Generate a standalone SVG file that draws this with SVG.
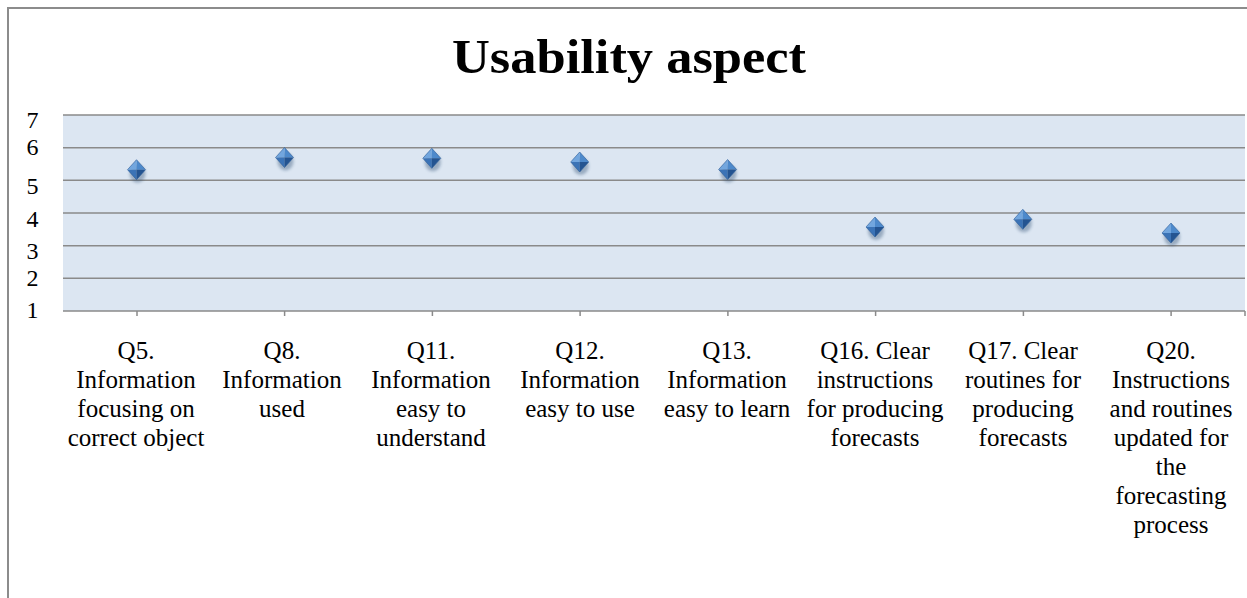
<svg xmlns="http://www.w3.org/2000/svg" width="1247" height="598" viewBox="0 0 1247 598">
<style>
.frame{fill:none;stroke:#8c8c8c;stroke-width:2}
.grid{stroke:#8a8a8a;stroke-width:1.6}
.tick{stroke:#8a8a8a;stroke-width:1.5}
.ylab{font-family:"Liberation Serif",serif;font-size:24px;fill:#000;text-anchor:middle}
.xlab{font-family:"Liberation Serif",serif;font-size:25px;fill:#000;text-anchor:middle}
.title{font-family:"Liberation Serif",serif;font-size:48px;font-weight:bold;fill:#000;text-anchor:middle}
</style>
<defs>
<filter id="blur" x="-50%" y="-50%" width="200%" height="200%"><feGaussianBlur stdDeviation="1.8"/></filter>
<g id="dia">
<ellipse cx="1" cy="4" rx="8" ry="9" fill="#1f3f66" opacity="0.35" filter="url(#blur)"/>
<path d="M0,-10 L-9,0 L0,0 Z" fill="#72a6de"/>
<path d="M0,-10 L9,0 L0,0 Z" fill="#4d89cb"/>
<path d="M-9,0 L0,10 L0,0 Z" fill="#3b73b6"/>
<path d="M9,0 L0,10 L0,0 Z" fill="#245491"/>
<path d="M0,-10 L9,0 L0,10 L-9,0 Z" fill="none" stroke="#2b5c98" stroke-width="0.6"/>
</g>
</defs>
<rect width="1247" height="598" fill="#fff"/>
<path class="frame" d="M8,598 V8 H1247"/>
<text class="title" x="629" y="73" textLength="354" lengthAdjust="spacingAndGlyphs">Usability aspect</text>
<g id="plot">
<rect x="63" y="115" width="1182" height="196" fill="#dce6f2"/>
<g id="gridlines">
<line class="grid" x1="63" y1="115" x2="1245" y2="115"/>
<line class="grid" x1="63" y1="147.7" x2="1245" y2="147.7"/>
<line class="grid" x1="63" y1="180.3" x2="1245" y2="180.3"/>
<line class="grid" x1="63" y1="213" x2="1245" y2="213"/>
<line class="grid" x1="63" y1="245.7" x2="1245" y2="245.7"/>
<line class="grid" x1="63" y1="278.3" x2="1245" y2="278.3"/>
<line class="grid" x1="63" y1="311" x2="1245" y2="311"/>
</g>
<g id="ticks">
<line class="tick" x1="137" y1="311" x2="137" y2="316"/>
<line class="tick" x1="284.6" y1="311" x2="284.6" y2="316"/>
<line class="tick" x1="432.4" y1="311" x2="432.4" y2="316"/>
<line class="tick" x1="580.1" y1="311" x2="580.1" y2="316"/>
<line class="tick" x1="727.9" y1="311" x2="727.9" y2="316"/>
<line class="tick" x1="875.6" y1="311" x2="875.6" y2="316"/>
<line class="tick" x1="1023.4" y1="311" x2="1023.4" y2="316"/>
<line class="tick" x1="1171.1" y1="311" x2="1171.1" y2="316"/>
<line class="tick" x1="1245" y1="311" x2="1245" y2="316"/>
</g>
</g>
<g id="y-axis">
<text class="ylab" x="32.5" y="128">7</text>
<text class="ylab" x="32.5" y="155">6</text>
<text class="ylab" x="32.5" y="194">5</text>
<text class="ylab" x="32.5" y="227">4</text>
<text class="ylab" x="32.5" y="259">3</text>
<text class="ylab" x="32.5" y="286">2</text>
<text class="ylab" x="32.5" y="318">1</text>
</g>
<g id="markers">
<g id="m-q5"><use href="#dia" x="136.5" y="169.7"/></g>
<g id="m-q8"><use href="#dia" x="284.5" y="157.5"/></g>
<g id="m-q11"><use href="#dia" x="431.8" y="158.3"/></g>
<g id="m-q12"><use href="#dia" x="579.7" y="162"/></g>
<g id="m-q13"><use href="#dia" x="727.6" y="169.5"/></g>
<g id="m-q16"><use href="#dia" x="875" y="227"/></g>
<g id="m-q17"><use href="#dia" x="1022.8" y="219.3"/></g>
<g id="m-q20"><use href="#dia" x="1171" y="233"/></g>
</g>
<g id="x-axis">
<g id="c-q5"><text class="xlab" x="136"><tspan x="136" y="359">Q5.</tspan><tspan x="136" y="388">Information</tspan><tspan x="136" y="417">focusing on</tspan><tspan x="136" y="446">correct object</tspan></text></g>
<g id="c-q8"><text class="xlab" x="282"><tspan x="282" y="359">Q8.</tspan><tspan x="282" y="388">Information</tspan><tspan x="282" y="417">used</tspan></text></g>
<g id="c-q11"><text class="xlab" x="431"><tspan x="431" y="359">Q11.</tspan><tspan x="431" y="388">Information</tspan><tspan x="431" y="417">easy to</tspan><tspan x="431" y="446">understand</tspan></text></g>
<g id="c-q12"><text class="xlab" x="580"><tspan x="580" y="359">Q12.</tspan><tspan x="580" y="388">Information</tspan><tspan x="580" y="417">easy to use</tspan></text></g>
<g id="c-q13"><text class="xlab" x="727"><tspan x="727" y="359">Q13.</tspan><tspan x="727" y="388">Information</tspan><tspan x="727" y="417">easy to learn</tspan></text></g>
<g id="c-q16"><text class="xlab" x="875"><tspan x="875" y="359">Q16. Clear</tspan><tspan x="875" y="388">instructions</tspan><tspan x="875" y="417">for producing</tspan><tspan x="875" y="446">forecasts</tspan></text></g>
<g id="c-q17"><text class="xlab" x="1023"><tspan x="1023" y="359">Q17. Clear</tspan><tspan x="1023" y="388">routines for</tspan><tspan x="1023" y="417">producing</tspan><tspan x="1023" y="446">forecasts</tspan></text></g>
<g id="c-q20"><text class="xlab" x="1171"><tspan x="1171" y="359">Q20.</tspan><tspan x="1171" y="388">Instructions</tspan><tspan x="1171" y="417">and routines</tspan><tspan x="1171" y="446">updated for</tspan><tspan x="1171" y="475">the</tspan><tspan x="1171" y="504">forecasting</tspan><tspan x="1171" y="533">process</tspan></text></g>
</g>
</svg>
